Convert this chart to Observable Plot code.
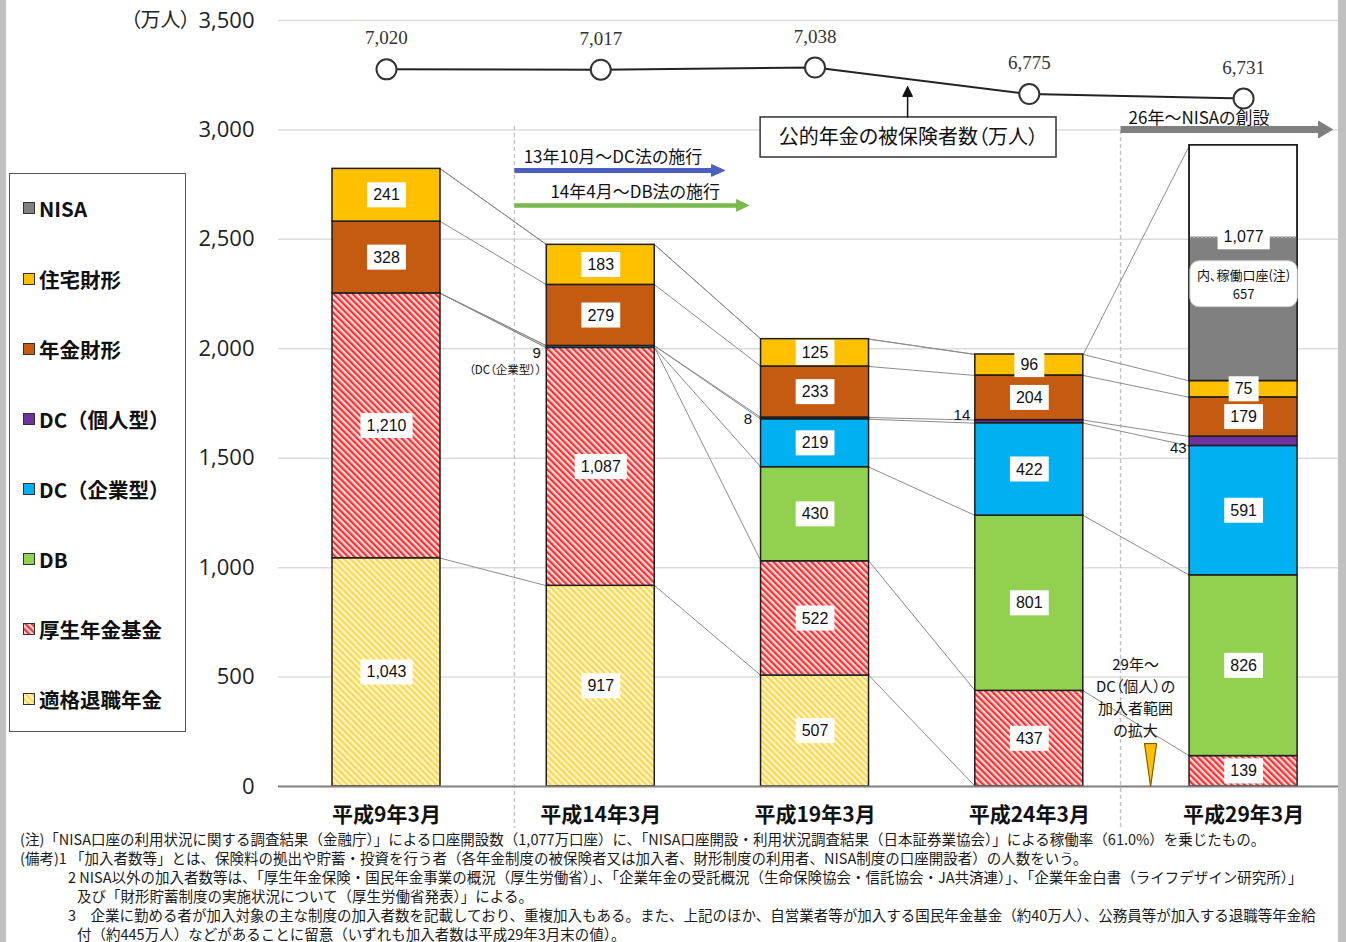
<!DOCTYPE html>
<html><head><meta charset="utf-8">
<script src="https://cdn.jsdelivr.net/npm/d3@7"></script>
<script src="https://cdn.jsdelivr.net/npm/@observablehq/plot@0.6"></script>
<style>
html,body{margin:0;padding:0;background:#fff;}
body{width:1346px;height:942px;overflow:hidden;position:relative;font-family:"Noto Sans CJK JP",sans-serif;color:#111;}
#chart{position:absolute;left:0;top:0;}
svg text{font-feature-settings:"palt" 1;}
#legend{position:absolute;left:9px;top:173px;width:177px;height:559px;border:1.5px solid #555;background:#fff;box-sizing:border-box;}
.li{position:absolute;left:13px;height:24px;font-weight:700;font-size:20.5px;line-height:24px;display:flex;align-items:center;white-space:nowrap;color:#111;}
.li svg{margin-right:4px;}
#notes{position:absolute;left:0;top:829px;width:1338px;overflow:hidden;white-space:nowrap;font-size:14.5px;line-height:19px;color:#1a1a1a;}
.bd{position:absolute;top:0;height:942px;background:#c0c0c0;}
</style></head><body>
<div id="chart"></div>
<div id="legend"></div>
<div id="notes"></div>
<div class="bd" style="left:0;width:6px"></div>
<div class="bd" style="left:1338px;width:8px"></div>
<script>
// ---- data ----
const categories = ["平成9年3月", "平成14年3月", "平成19年3月", "平成24年3月", "平成29年3月"];
const tekikaku = [1043, 917, 507, 0, 0];        // 適格退職年金
const kosei = [1210, 1087, 522, 437, 139];      // 厚生年金基金
const db = [0, 0, 430, 801, 826];               // DB
const dcCorp = [0, 9, 219, 422, 591];           // DC（企業型）
const dcIndiv = [0, 0, 8, 14, 43];              // DC（個人型）
const nenkinZaikei = [328, 279, 233, 204, 179]; // 年金財形
const jutakuZaikei = [241, 183, 125, 96, 75];   // 住宅財形
const nisa = [0, 0, 0, 0, 1077];                // NISA 口座開設数
const nisaActive = [0, 0, 0, 0, 657];           // 内、稼働口座
const pension = [7020, 7017, 7038, 6775, 6731]; // 公的年金の被保険者数（万人）
const yTicks = [0, 500, 1000, 1500, 2000, 2500, 3000, 3500];
const legendNames = ["NISA", "住宅財形", "年金財形", "DC（個人型）", "DC（企業型）", "DB", "厚生年金基金", "適格退職年金"];
const notes = [
  "(注)「NISA口座の利用状況に関する調査結果（金融庁）」による口座開設数（1,077万口座）に、「NISA口座開設・利用状況調査結果（日本証券業協会）」による稼働率（61.0%）を乗じたもの。",
  "(備考)1 「加入者数等」とは、保険料の拠出や貯蓄・投資を行う者（各年金制度の被保険者又は加入者、財形制度の利用者、NISA制度の口座開設者）の人数をいう。",
  "2  NISA以外の加入者数等は、「厚生年金保険・国民年金事業の概況（厚生労働省）」、「企業年金の受託概況（生命保険協会・信託協会・JA共済連）」、「企業年金白書（ライフデザイン研究所）」",
  "及び「財形貯蓄制度の実施状況について（厚生労働省発表）」による。",
  "3　企業に勤める者が加入対象の主な制度の加入者数を記載しており、重複加入もある。また、上記のほか、自営業者等が加入する国民年金基金（約40万人）、公務員等が加入する退職等年金給",
  "付（約445万人）などがあることに留意（いずれも加入者数は平成29年3月末の値）。"
];

// ---- build ----
const fills = {
  "適格退職年金": "url(#hYellow)", "厚生年金基金": "url(#hRed)", "DB": "#92D050",
  "DC（企業型）": "#00B0F0", "DC（個人型）": "#7030A0", "年金財形": "#C55A11",
  "住宅財形": "#FFC000", "NISA": "#808080"
};
const series = [
  {key: "適格退職年金", values: tekikaku},
  {key: "厚生年金基金", values: kosei},
  {key: "DB", values: db},
  {key: "DC（企業型）", values: dcCorp},
  {key: "DC（個人型）", values: dcIndiv},
  {key: "年金財形", values: nenkinZaikei},
  {key: "住宅財形", values: jutakuZaikei},
  {key: "NISA", values: nisa}
];
const HW = 0.252;
const fmt = d3.format(",");
const segs = [];
const tops = series.map(() => []);
categories.forEach((c, i) => {
  let cum = 0;
  series.forEach((s, k) => {
    const v = s.values[i];
    segs.push({i, k, key: s.key, v, y1: cum, y2: cum + v});
    cum += v;
    tops[k][i] = cum;
  });
});
const connectors = [];
series.forEach((s, k) => {
  for (let i = 0; i < categories.length - 1; i++)
    connectors.push({x1: i + HW, x2: i + 1 - HW, y1: tops[k][i], y2: tops[k][i + 1]});
});
const inside = segs.filter(d => d.v > 0 && d.key !== "DC（個人型）" && d.key !== "NISA" && !(d.key === "DC（企業型）" && d.v < 20))
  .map(d => ({x: d.i, y: (d.y1 + d.y2) / 2, t: fmt(d.v)}));
const nisaSeg = segs.filter(d => d.key === "NISA" && d.v > 0);
const nisaAct = nisaSeg.map(d => ({i: d.i, y1: d.y1, y2: d.y1 + nisaActive[d.i], total: d.v, act: nisaActive[d.i]}));
const small = segs.filter(d => d.v > 0 && (d.key === "DC（個人型）" || (d.key === "DC（企業型）" && d.v < 20)))
  .map(d => ({x: d.i - HW, y: (d.y1 + d.y2) / 2, t: fmt(d.v), key: d.key, i: d.i}));
const pensionY = d3.scaleLinear([6731, 7038], [3143.5, 3285]);
const pen = pension.map((v, i) => ({i, v, y: pensionY(v)}));

const font = "Noto Sans CJK JP";
const T = (x, y, t, o) => Plot.text([{x, y, t}], {x: "x", y: "y", text: "t", fontFamily: font, fill: "#111", ...o});
const tri = (pts, color) => Plot.line(pts, {x: "x", y: "y", fill: color, stroke: color, strokeWidth: 1});

const marks = [
  Plot.ruleY(yTicks.filter(d => d > 0), {stroke: "#dcdcdc", strokeWidth: 1.5}),
  Plot.ruleX([{x: 0.597, top: 3016}, {x: 3.426, top: 2997}], {x: "x", y1: "top", y2: -192, stroke: "#c4c4c4", strokeWidth: 1.5, strokeDasharray: "4,3"}),
  Plot.link(connectors, {x1: "x1", x2: "x2", y1: "y1", y2: "y2", stroke: "#8c8c8c", strokeWidth: 1})
];
series.forEach(s => {
  const data = segs.filter(d => d.key === s.key && d.v > 0);
  marks.push(Plot.rect(data, {x1: d => d.i - HW, x2: d => d.i + HW, y1: "y1", y2: "y2",
    fill: s.key === "NISA" ? "#ffffff" : fills[s.key], stroke: "#1e1e1e", strokeWidth: 1.5}));
});
marks.push(
  Plot.rect(nisaAct, {x1: d => d.i - HW, x2: d => d.i + HW, y1: "y1", y2: "y2", fill: fills["NISA"]}),
  Plot.ruleY(nisaAct, {x1: d => d.i - HW, x2: d => d.i + HW, y: "y2", stroke: "#b0b0b0", strokeWidth: 2, strokeDasharray: "2,2"}),
  Plot.rect(nisaSeg, {x1: d => d.i - HW, x2: d => d.i + HW, y1: "y1", y2: "y2", fill: "none", stroke: "#1e1e1e", strokeWidth: 1.5}),
  Plot.ruleY([0], {stroke: "#7f7f7f", strokeWidth: 2}),
  // segment labels (boxed)
  Plot.text(inside, {x: "x", y: "y", text: "t", fontFamily: "Liberation Sans", fontSize: 16, fill: "#111", ariaLabel: () => "seglabel"}),
  Plot.text(nisaAct, {x: "i", y: "y2", text: d => fmt(d.total), fontFamily: "Liberation Sans", fontSize: 16, fill: "#111", ariaLabel: () => "seglabel"}),
  Plot.text(nisaAct, {x: "i", y: d => d.y1 + d.act * 0.68, text: d => "内、稼働口座(注)\n" + fmt(d.act), fontFamily: font, fontSize: 13, lineHeight: 1.45, fill: "#111", ariaLabel: () => "roundlabel"}),
  // outside small labels
  Plot.text(small.filter(d => d.i === 1), {x: "x", y: "y", text: "t", dx: -6, dy: 6, textAnchor: "end", fontFamily: "Liberation Sans", fontSize: 15, fill: "#111"}),
  Plot.text(small.filter(d => d.i === 1), {x: "x", y: "y", text: () => "（DC（企業型））", dx: -5, dy: 23, textAnchor: "end", fontFamily: font, fontSize: 11.5, fill: "#111"}),
  Plot.text(small.filter(d => d.i === 2), {x: "x", y: "y", text: "t", dx: -9, dy: 1, textAnchor: "end", fontFamily: "Liberation Sans", fontSize: 15, fill: "#111"}),
  Plot.text(small.filter(d => d.i === 3), {x: "x", y: "y", text: "t", dx: -5, dy: -6, textAnchor: "end", fontFamily: "Liberation Sans", fontSize: 15, fill: "#111"}),
  Plot.text(small.filter(d => d.i === 4), {x: "x", y: "y", text: "t", dx: -3, dy: 7, textAnchor: "end", fontFamily: "Liberation Sans", fontSize: 15, fill: "#111"}),
  // pension line
  Plot.line(pen, {x: "i", y: "y", stroke: "#222", strokeWidth: 2}),
  Plot.dot(pen, {x: "i", y: "y", r: 10, fill: "#fff", stroke: "#333", strokeWidth: 2}),
  Plot.text(pen, {x: "i", y: "y", text: d => fmt(d.v), dy: -31, fontFamily: "Liberation Serif", fontSize: 19, fill: "#333"}),
  // annotation box + arrow
  Plot.rect([{}], {x1: 1.746, x2: 3.127, y1: 2874, y2: 3057, fill: "#fff", stroke: "#333", strokeWidth: 1.5}),
  T(2.436, 2965, "公的年金の被保険者数（万人）", {fontSize: 20}),
  Plot.link([{}], {x1: 2.432, x2: 2.432, y1: 3057, y2: 3155, stroke: "#111", strokeWidth: 1.5}),
  tri([{x: 2.432, y: 3198}, {x: 2.409, y: 3153}, {x: 2.455, y: 3153}, {x: 2.432, y: 3198}], "#111"),
  // law arrows
  Plot.link([{}], {x1: 0.597, x2: 1.52, y1: 2815, y2: 2815, stroke: "#4a5fc1", strokeWidth: 5}),
  tri([{x: 1.578, y: 2815}, {x: 1.517, y: 2842}, {x: 1.517, y: 2788}, {x: 1.578, y: 2815}], "#4a5fc1"),
  T(0.640, 2874, "13年10月～DC法の施行", {fontSize: 17, textAnchor: "start"}),
  Plot.link([{}], {x1: 0.597, x2: 1.64, y1: 2655, y2: 2655, stroke: "#77b94a", strokeWidth: 4.5}),
  tri([{x: 1.689, y: 2655}, {x: 1.633, y: 2682}, {x: 1.633, y: 2628}, {x: 1.689, y: 2655}], "#77b94a"),
  T(0.765, 2714, "14年4月～DB法の施行", {fontSize: 17, textAnchor: "start"}),
  Plot.link([{}], {x1: 3.426, x2: 4.355, y1: 3002, y2: 3002, stroke: "#7f7f7f", strokeWidth: 7}),
  tri([{x: 4.415, y: 3002}, {x: 4.350, y: 3040}, {x: 4.350, y: 2964}, {x: 4.415, y: 3002}], "#7f7f7f"),
  T(3.463, 3052, "26年～NISAの創設", {fontSize: 17, textAnchor: "start"}),
  // DC individual expansion (one text per line)
  T(3.496, 555, "29年～", {fontSize: 15}),
  T(3.496, 454, "DC（個人）の", {fontSize: 15}),
  T(3.496, 353, "加入者範囲", {fontSize: 15}),
  T(3.496, 252, "の拡大", {fontSize: 15}),
  tri([{x: 3.538, y: 196}, {x: 3.594, y: 196}, {x: 3.566, y: 0}, {x: 3.538, y: 196}], "#FFC000"),
  Plot.line([{x: 3.538, y: 196}, {x: 3.594, y: 196}, {x: 3.566, y: 0}, {x: 3.538, y: 196}], {x: "x", y: "y", stroke: "#6b5000", strokeWidth: 1}),
  // axes labels
  Plot.text(yTicks, {y: d => d, frameAnchor: "left", dx: -24, textAnchor: "end", text: d => fmt(d), fontFamily: "Open Sans", fontSize: 22, fill: "#222"}),
  Plot.text([3500], {y: d => d, frameAnchor: "left", dx: -88, textAnchor: "end", text: () => "（万人）", fontFamily: font, fontSize: 20, fill: "#222"}),
  Plot.text(categories, {x: (d, i) => i, y: 0, dy: 29, text: d => d, fontFamily: font, fontSize: 21, fontWeight: "bold", fill: "#111"})
);

const plot = Plot.plot({
  width: 1346, height: 828,
  marginLeft: 278, marginRight: 8, marginTop: 20, marginBottom: 42,
  x: {domain: [-0.504, 4.443], axis: null},
  y: {domain: [0, 3500], axis: null},
  style: {background: "transparent", overflow: "visible"},
  marks
});
document.getElementById("chart").append(plot);

const patterns = `
<pattern id="hRed" patternUnits="userSpaceOnUse" width="4.5" height="4.5" patternTransform="rotate(-45)">
  <rect width="4.5" height="4.5" fill="#ffdcdc"/><rect width="2.2" height="4.5" fill="#ff2e2e"/></pattern>
<pattern id="hYellow" patternUnits="userSpaceOnUse" width="4.5" height="4.5" patternTransform="rotate(-45)">
  <rect width="4.5" height="4.5" fill="#fff6cf"/><rect width="2.2" height="4.5" fill="#ffd54a"/></pattern>`;
d3.select(plot).insert("defs", ":first-child").html(patterns);

function boxes(label, padX, padY, rx, stroke) {
  plot.querySelectorAll(`text[aria-label="${label}"]`).forEach(t => {
    const b = t.getBBox();
    const r = document.createElementNS("http://www.w3.org/2000/svg", "rect");
    r.setAttribute("x", b.x - padX);
    r.setAttribute("y", b.y - padY);
    r.setAttribute("width", b.width + 2 * padX);
    r.setAttribute("height", b.height + 2 * padY);
    r.setAttribute("rx", rx);
    r.setAttribute("fill", "#fff");
    if (stroke) { r.setAttribute("stroke", stroke); r.setAttribute("stroke-width", 1); }
    const tr = t.getAttribute("transform");
    if (tr) r.setAttribute("transform", tr);
    t.parentNode.insertBefore(r, t);
  });
}
boxes("seglabel", 6, 4, 0);
boxes("roundlabel", 7, 4, 9, "#d0d0d0");

// legend
const legend = document.getElementById("legend");
const legendCenters = [34, 105, 175, 245, 315, 385, 455, 525];
legendNames.forEach((n, j) => {
  const div = document.createElement("div");
  div.className = "li";
  div.style.top = (legendCenters[j] - 12) + "px";
  div.innerHTML = `<svg width="12" height="12"><rect x="0.5" y="0.5" width="11" height="11" fill="${fills[n]}" stroke="#333" stroke-width="1"/></svg>`;
  const span = document.createElement("span");
  span.textContent = n;
  div.append(span);
  legend.append(div);
});

// notes
const notesDiv = document.getElementById("notes");
const indents = [20, 20, 68, 77, 68, 77];
notes.forEach((t, j) => {
  const d = document.createElement("div");
  d.style.paddingLeft = indents[j] + "px";
  d.textContent = t;
  notesDiv.append(d);
});
</script>
</body></html>
